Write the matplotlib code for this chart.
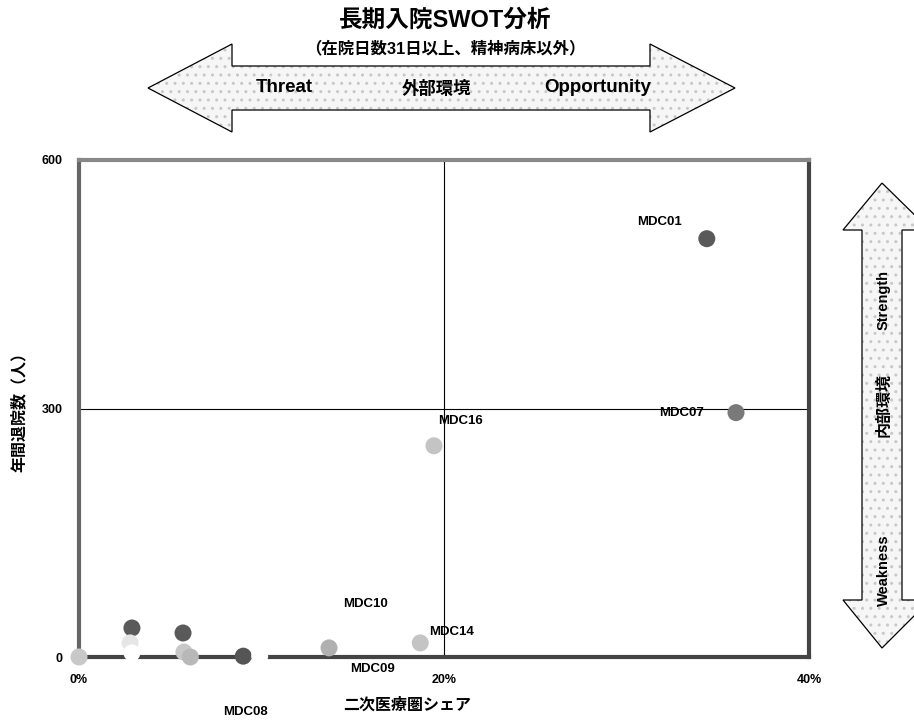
import matplotlib.pyplot as plt
from matplotlib.patches import Polygon

plt.rcParams['font.family'] = ['Liberation Sans', 'Noto Sans CJK JP', 'DejaVu Sans']

# points: share (%), discharges per year, shade
share = [34.4, 36.0, 19.45, 18.7, 13.7, 0.0, 2.9, 2.8, 2.9, 5.7, 5.75, 6.1, 9.0, 9.9]
discharges = [505, 295, 255, 17, 11, 0, 35, 17, 5, 29, 6, 0, 1, 1]
shade = ['#5a5a5a', '#7a7a7a', '#c4c4c4', '#c4c4c4', '#b0b0b0', '#c8c8c8', '#5a5a5a',
         '#e6e6e6', '#ffffff', '#5a5a5a', '#c8c8c8', '#b8b8b8', '#555555', '#ffffff']

# labels and where they sit (data coords)
labels = ['MDC01', 'MDC07', 'MDC16', 'MDC10', 'MDC14', 'MDC09', 'MDC08']
label_x = [31.8, 33.0, 20.9, 15.7, 20.4, 16.1, 9.1]
label_y = [525, 295, 285, 64, 30, -14, -66]

xticks = [0, 20, 40]
yticks = [0, 300, 600]

fig = plt.figure(figsize=(9.14, 7.24), dpi=100)
ax = fig.add_axes([79 / 914, 67 / 724, 730 / 914, 497 / 724])

ax.axvline(20, color='black', lw=0.8, zorder=1)
ax.axhline(300, color='black', lw=0.8, zorder=1)
ax.scatter(share, discharges, s=150, c=shade, edgecolors='none', zorder=3, clip_on=False)

for t, lx, ly in zip(labels, label_x, label_y):
    ax.text(lx, ly, t, ha='center', va='center', fontsize=9.5, fontweight='bold', clip_on=False)

ax.set_xlim(0, 40)
ax.set_ylim(0, 600)
ax.set_xticks(xticks)
ax.set_yticks(yticks)
ax.set_xticklabels([f'{v}%' for v in xticks], fontsize=9, fontweight='bold')
ax.set_yticklabels([str(v) for v in yticks], fontsize=9, fontweight='bold')
ax.tick_params(length=0, pad=12)
for s in ax.spines.values():
    s.set_linewidth(3)
    s.set_color('#444444')
ax.spines['left'].set_color('#666666')
ax.spines['top'].set_color('#888888')

ax.set_xlabel('二次医療圏シェア', fontsize=11.5, fontweight='bold')
ax.set_ylabel('年間退院数（人）', fontsize=11.5, fontweight='bold')
ax.xaxis.set_label_coords(0.45, -0.082)
ax.yaxis.set_label_coords(-0.072, 0.5)

fig.text(0.487, 1 - 20 / 724, '長期入院SWOT分析', ha='center', va='center', fontsize=17, fontweight='bold')
fig.text(0.487, 1 - 48 / 724, '（在院日数31日以上、精神病床以外）', ha='center', va='center', fontsize=11.8, fontweight='bold')


def px(x, y):
    return (x / 914, 1 - y / 724)


def double_arrow(points):
    verts = [px(*p) for p in points]
    fig.patches.append(Polygon(verts, closed=True, transform=fig.transFigure,
                               facecolor='#f6f6f6', edgecolor='#c8c8c8', lw=0, hatch='..'))
    fig.patches.append(Polygon(verts, closed=True, transform=fig.transFigure,
                               facecolor='none', edgecolor='black', lw=0.9))


# horizontal double arrow
double_arrow([(148, 88), (232, 44), (232, 66), (650, 66), (650, 44), (735, 88),
              (650, 132), (650, 110), (232, 110), (232, 132)])
fig.text(284 / 914, 1 - 88 / 724, 'Threat', ha='center', va='center', fontsize=13.5, fontweight='bold')
fig.text(437 / 914, 1 - 88 / 724, '外部環境', ha='center', va='center', fontsize=12.5, fontweight='bold')
fig.text(598 / 914, 1 - 88 / 724, 'Opportunity', ha='center', va='center', fontsize=13.5, fontweight='bold')

# vertical double arrow (cut by the right edge)
double_arrow([(882, 183), (930, 230), (902, 230), (902, 600), (930, 600), (882, 648),
              (843, 600), (862, 600), (862, 230), (843, 230)])
fig.text(884 / 914, 1 - 570 / 724, 'Weakness', ha='center', va='center', rotation=90, fontsize=10.5, fontweight='bold')
fig.text(884 / 914, 1 - 405 / 724, '内部環境', ha='center', va='center', rotation=90, fontsize=11.5, fontweight='bold')
fig.text(884 / 914, 1 - 300 / 724, 'Strength', ha='center', va='center', rotation=90, fontsize=10.5, fontweight='bold')

fig.savefig('out.png', dpi=100)
